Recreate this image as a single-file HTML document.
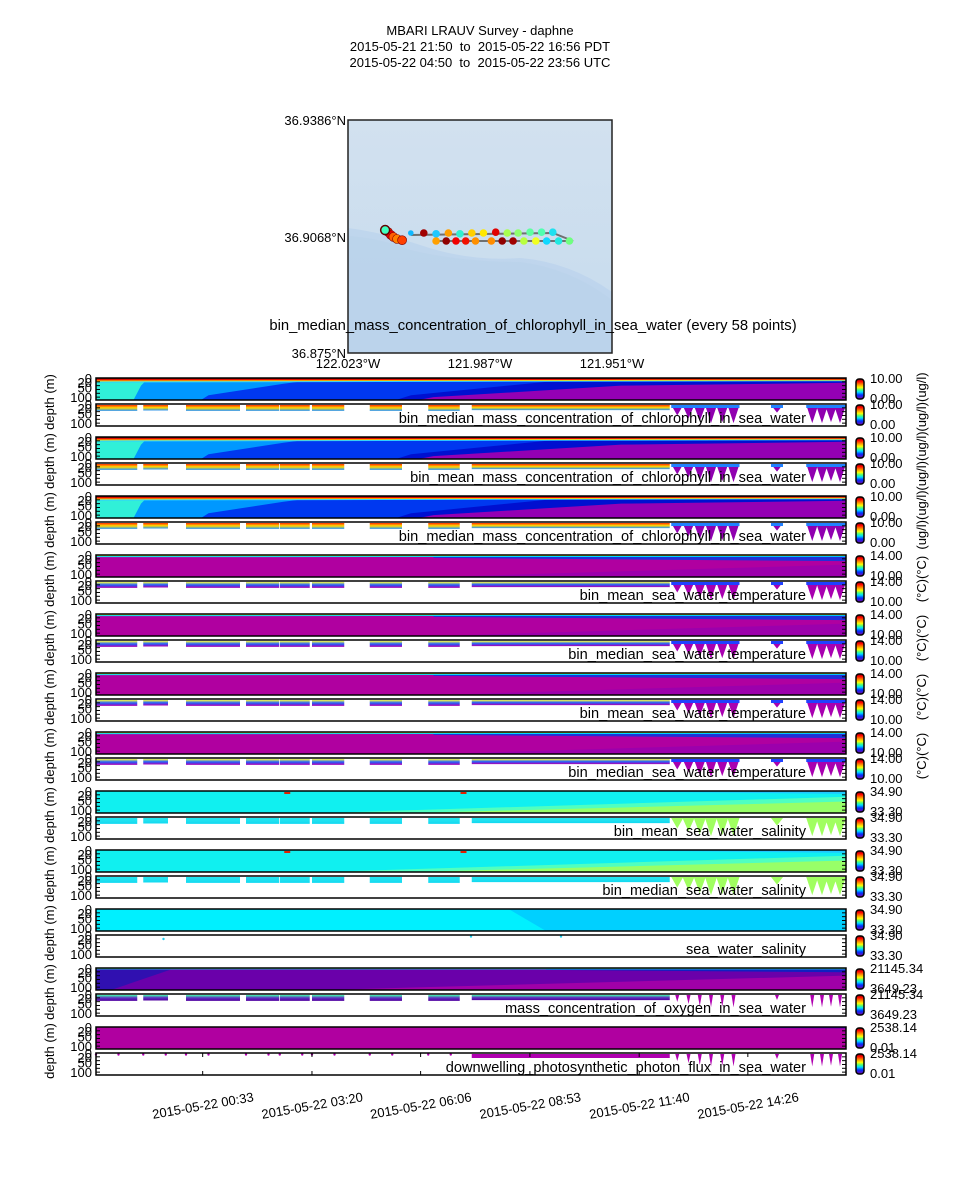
<!DOCTYPE html>
<html><head><meta charset="utf-8">
<style>
html,body{margin:0;padding:0;background:#fff;}
svg{display:block;font-family:"Liberation Sans",sans-serif;}
</style></head>
<body>
<svg id="fig" width="960" height="1200" viewBox="0 0 960 1200" xmlns="http://www.w3.org/2000/svg">
<defs>
<linearGradient id="cbar" x1="0" y1="0" x2="0" y2="1">
<stop offset="0" stop-color="#800000"/><stop offset="0.12" stop-color="#ff0000"/><stop offset="0.3" stop-color="#ffa000"/>
<stop offset="0.42" stop-color="#ffff00"/><stop offset="0.55" stop-color="#40ff80"/><stop offset="0.65" stop-color="#00e0ff"/>
<stop offset="0.8" stop-color="#0030ff"/><stop offset="1" stop-color="#8000a0"/></linearGradient>
<linearGradient id="mapbg" x1="0" y1="0" x2="0" y2="1"><stop offset="0" stop-color="#d2e1ef"/><stop offset="1" stop-color="#c6dbee"/></linearGradient>
</defs>
<g font-size="13" text-anchor="middle" fill="#000">
<text x="480" y="35">MBARI LRAUV Survey - daphne</text>
<text x="480" y="51">2015-05-21 21:50 &#160;to &#160;2015-05-22 16:56 PDT</text>
<text x="480" y="67">2015-05-22 04:50 &#160;to &#160;2015-05-22 23:56 UTC</text>
</g>
<g id="map">
<rect x="348" y="120" width="264" height="233" fill="url(#mapbg)"/>
<path d="M348 228 Q380 232 420 245 Q470 262 520 258 Q570 262 612 292 L612 353 L348 353 Z" fill="#bcd3ec" opacity="0.8"/>
<path d="M348 236 Q380 238 410 250 Q460 262 520 262 Q570 268 612 300 L612 353 L348 353Z" fill="#b9d2ea" opacity="0.6"/>
<polyline points="411,235 553,233 573,241 435,241" fill="none" stroke="#707070" stroke-width="2"/>
<g id="mapdots"></g>
<rect x="348" y="120" width="264" height="233" fill="none" stroke="#222" stroke-width="1.5"/>
<g font-size="13" fill="#000">
<text x="346" y="125" text-anchor="end">36.9386°N</text>
<text x="346" y="242" text-anchor="end">36.9068°N</text>
<text x="346" y="358" text-anchor="end">36.875°N</text>
<text x="348" y="368" text-anchor="middle">122.023°W</text>
<text x="480" y="368" text-anchor="middle">121.987°W</text>
<text x="612" y="368" text-anchor="middle">121.951°W</text>
<text x="533" y="330" text-anchor="middle" font-size="14.8">bin_median_mass_concentration_of_chlorophyll_in_sea_water (every 58 points)</text>
</g>
</g>
<g id="panels"></g>
</svg>
<script>
// ---------- data ----------
const titles = ["bin_median_mass_concentration_of_chlorophyll_in_sea_water","bin_mean_mass_concentration_of_chlorophyll_in_sea_water","bin_median_mass_concentration_of_chlorophyll_in_sea_water","bin_mean_sea_water_temperature","bin_median_sea_water_temperature","bin_mean_sea_water_temperature","bin_median_sea_water_temperature","bin_mean_sea_water_salinity","bin_median_sea_water_salinity","sea_water_salinity","mass_concentration_of_oxygen_in_sea_water","downwelling_photosynthetic_photon_flux_in_sea_water"];
const kinds = ["chl","chl","chl","temp","temp","temp","temp","sal","sal","sal3","oxy","photon"];
const vmaxLabels = ["10.00","10.00","10.00","14.00","14.00","14.00","14.00","34.90","34.90","34.90","21145.34","2538.14"];
const vminLabels = ["0.00","0.00","0.00","10.00","10.00","10.00","10.00","33.30","33.30","33.30","3649.23","0.01"];
const units = ["(ug/l)","(ug/l)","(ug/l)","(°C)","(°C)","(°C)","(°C)","","","","",""];
const depthTicks = [0,20,50,100];
const totalMinutes = 1146;
const tickMinutes = [163,330,496,663,830,996];
const tickLabels = ["2015-05-22 00:33","2015-05-22 03:20","2015-05-22 06:06","2015-05-22 08:53","2015-05-22 11:40","2015-05-22 14:26"];
const segStart = [0.0,0.063,0.12,0.2,0.245,0.288,0.365,0.443,0.501];
const segEnd   = [0.055,0.096,0.192,0.244,0.285,0.331,0.408,0.485,0.765];
const segDepth = [36,34,36,36,36,36,36,36,32];
const profT = [0.775,0.79,0.805,0.82,0.835,0.85,0.908,0.955,0.968,0.98,0.992];
const profD = [60,75,90,100,95,100,45,100,100,95,100];
const mapLon = [-122.0142,-122.0106,-122.0072,-122.0038,-122.0006,-121.9973,-121.9941,-121.9907,-121.9875,-121.9845,-121.9812,-121.978,-121.9749,-122.0072,-122.0044,-122.0017,-121.999,-121.9963,-121.9919,-121.9889,-121.9859,-121.9829,-121.9796,-121.9766,-121.9733,-121.9703];
const mapLat = [36.9068,36.9068,36.9067,36.9068,36.9067,36.9068,36.9068,36.9069,36.9068,36.9068,36.9069,36.9069,36.9069,36.9058,36.9058,36.9058,36.9058,36.9058,36.9058,36.9058,36.9058,36.9058,36.9058,36.9058,36.9058,36.9058];
const mapColor = ["#10b8ff","#a00000","#20c8ff","#ffa000","#30f0d0","#ffd000","#ffe800","#e00000","#a8ff50","#90ff70","#60ffa0","#50ffb0","#20e0f0","#ffa000","#900000","#f00000","#f01000","#ff9000","#ff8c00","#900000","#a00000","#b8ff40","#f0ff20","#10d8ff","#20e8e0","#70ff80"];
const clusterLon = [-122.0205,-122.0197,-122.019,-122.018,-122.0166];
const clusterLat = [36.90692,36.90655,36.9063,36.90605,36.9059];
const clusterColor = ["#ff2000","#e00000","#ff6000","#ff8000","#ff4000"];

// ---------- scales ----------
const X0=96, X1=846, DMAX=115;
const xT = t => X0 + t*(X1-X0);
const xM = m => xT(m/totalMinutes);
const lonX = lon => 379 + (lon + 122.023)*3613;
const latY = lat => 233 - (lat - 36.9068)*8000;

const NS="http://www.w3.org/2000/svg";
function mk(tag, attrs, parent){const e=document.createElementNS(NS,tag);for(const k in attrs)e.setAttribute(k,attrs[k]);parent.appendChild(e);return e;}

const md=document.getElementById('mapdots');
for(let i=0;i<clusterLon.length;i++){
  const c=mk('circle',{cx:lonX(clusterLon[i]),cy:latY(clusterLat[i]),r:4.5,fill:clusterColor[i],stroke:'#800000','stroke-width':0.6},md);
  
  
}
for(let i=0;i<mapLon.length;i++){
  const c=mk('circle',{cx:lonX(mapLon[i]),cy:latY(mapLat[i]),r:(i===0?2.8:3.8),fill:mapColor[i]},md);
  
  
}
const st=mk('circle',{cx:lonX(-122.0213),cy:latY(36.90717),r:4.5,fill:'#40ffc0',stroke:'#600000','stroke-width':1.5},md);



const layers = {
 chl:{base:"#9400b4",polys:[
  ["#0010d0",[[0,0],[1,0],[1,25],[0.7,40],[0.45,100],[0.43,115],[0,115]]],
  ["#0038f0",[[0,0],[0.75,0],[0.6,20],[0.42,90],[0.4,115],[0,115]]],
  ["#0098ff",[[0,0],[0.31,0],[0.25,30],[0.15,90],[0.14,115],[0,115]]],
  ["#30f0d8",[[0,0],[0.07,0],[0.06,40],[0.05,115],[0,115]]],
  ["#30d0ff",[[0,0],[1,0],[1,17],[0.5,20],[0,24]]],
  ["#ffe000",[[0,0],[1,0],[1,13],[0.5,15],[0,18]]],
  ["#ee1000",[[0,0],[1,0],[1,9],[0.5,11],[0,13]]],
  ["#880000",[[0,0],[1,0],[1,5],[0,6]]]]},
 temp:{base:"#b000a0",polys:[
  ["#9c00ac",[[0.45,115],[1,50],[1,115]]],
  ["#2030d8",[[0.45,10],[1,5],[1,32],[0.8,26],[0.45,15]]],
  ["#00d8ff",[[0,0],[1,0],[1,10],[0,11]]],
  ["#ffff20",[[0,0],[1,0],[1,5],[0,6]]]]},
 sal:{base:"#10f0f0",polys:[
  ["#50ffc0",[[0.3,115],[1,30],[1,115]]],
  ["#98ff68",[[0.42,115],[1,55],[1,115]]],
  ["#20c8ff",[[0.75,0],[1,0],[1,15],[0.75,5]]]]},
 sal3:{base:"#00f0ff",polys:[
  ["#00d0ff",[[0.55,0],[1,0],[1,115],[0.6,115]]]]},
 oxy:{base:"#6a00aa",polys:[
  ["#a000a8",[[0.3,115],[1,40],[1,115]]],
  ["#3010b0",[[0,8],[0.1,8],[0.02,115],[0,115]]],
  ["#1020c0",[[0.6,6],[1,6],[1,22],[0.6,10]]],
  ["#20e0e0",[[0,0],[1,0],[1,7],[0,7]]],
  ["#c0ff40",[[0,0],[1,0],[1,3],[0,3]]]]},
 photon:{base:"#b000a0",polys:[
  ["#3000c0",[[0.6,0],[1,0],[1,7],[0.6,1]]]]}
};
const scatterGrad = {chl:["#ff3000","#ffdd00","#2090ff"],temp:["#ffff40","#2060ff","#b000b0"],sal:["#20e8f0","#20e0f0","#10d8f0"],sal3:null,oxy:["#40ffb0","#6030c0","#5000a0"],photon:null};
const profColor = {chl:"#9000b0",temp:"#a800b0",sal:"#a0ff60",sal3:null,oxy:"#b000b0",photon:"#b000b0"};

const root=document.getElementById('panels');
const defs=document.querySelector('defs');
for(const k in scatterGrad){ if(!scatterGrad[k])continue;
  const g=mk('linearGradient',{id:'sg-'+k,x1:0,y1:0,x2:0,y2:1},defs);
  scatterGrad[k].forEach((c,i)=>mk('stop',{offset:i/2,'stop-color':c},g));
}

function drawAxes(g,top,h){
  const yD=d=>top+d/DMAX*h;
  for(const d of [0,20,40,60,80,100]){
    mk('line',{x1:X0,x2:X0+4,y1:yD(d),y2:yD(d),stroke:'#000','stroke-width':1},g);
    mk('line',{x1:X1-4,x2:X1,y1:yD(d),y2:yD(d),stroke:'#000','stroke-width':1},g);
  }
  depthTicks.forEach(d=>{
    const t=mk('text',{x:92,y:yD(d)+5,'text-anchor':'end','font-size':13},g);
    t.textContent=String(d);
  });
}

for(let i=0;i<12;i++){
  const top=378+i*59, h=22, top2=top+26;
  const k=kinds[i];
  const g=mk('g',{},root);
  
  
  const yD=(d,tp)=>tp+Math.min(d,DMAX)/DMAX*h;
  const cg=mk('g',{},g);
  
  
  mk('rect',{x:X0,y:top,width:X1-X0,height:h,fill:layers[k].base},cg);
  layers[k].polys.forEach(([col,pts])=>{
    const p=mk('polygon',{points:pts.map(q=>xT(q[0])+','+yD(q[1],top)).join(' '),fill:col},cg);
    
    
  });
  if(k==='sal'){ [0.255,0.49].forEach(t=>mk('rect',{x:xT(t)-3,y:top+1,width:6,height:2,fill:'#e02000'},cg)); }
  mk('rect',{x:X0,y:top,width:X1-X0,height:h,fill:'none',stroke:'#000','stroke-width':1.5},cg);
  drawAxes(cg,top,h);
  const sg=mk('g',{},g);
  
  
  mk('rect',{x:X0,y:top2,width:X1-X0,height:h,fill:'#fff'},sg);
  if(scatterGrad[k]){
    for(let s=0;s<segStart.length;s++){
      const r=mk('rect',{x:xT(segStart[s]),y:top2+1,width:xT(segEnd[s])-xT(segStart[s]),height:yD(segDepth[s],top2)-top2-1,fill:'url(#sg-'+k+')'},sg);
      
      
    }
  } else if(k==='photon'){
    for(let s=0;s<segStart.length;s++){
      if(segStart[s]<0.45){ for(let m=0;m<2;m++) mk('circle',{cx:xT(segStart[s]+m*0.03),cy:top2+1.5,r:1.2,fill:'#b000b0'},sg); }
      else { const r=mk('rect',{x:xT(segStart[s]),y:top2+1,width:xT(segEnd[s])-xT(segStart[s]),height:4,fill:'#b000b0'},sg);
        
         }
    }
  } else if(k==='sal3'){
    [0.09,0.5,0.62].forEach(t=>mk('circle',{cx:xT(t),cy:top2+(t<0.1?4:1.5),r:1.2,fill:'#20d0f0'},sg));
  }
  if(profColor[k]){
    for(let p=0;p<profT.length;p++){
      const x=xT(profT[p]), w=(k==='oxy'||k==='photon')?2:6;
      const d=(k==='oxy'||k==='photon')?profD[p]*0.7:profD[p];
      const pg=mk('polygon',{points:(x-w)+','+(top2+1)+' '+(x+w)+','+(top2+1)+' '+x+','+yD(d,top2),fill:profColor[k]},sg);
      
      
      if(k==='temp'||k==='chl'){ mk('rect',{x:x-w,y:top2+1,width:2*w,height:3,fill:k==='chl'?'#2080ff':'#2040ff'},sg); }
    }
  }
  mk('rect',{x:X0,y:top2,width:X1-X0,height:h,fill:'none',stroke:'#000','stroke-width':1.5},sg);
  drawAxes(sg,top2,h);
  if(i===11){ tickMinutes.forEach(m=>{ mk('line',{x1:xM(m),x2:xM(m),y1:top2,y2:top2+4,stroke:'#000'},sg); mk('line',{x1:xM(m),x2:xM(m),y1:top2+h,y2:top2+h-4,stroke:'#000'},sg);}); }
  const tt=mk('text',{x:806,y:top2+h-3,'text-anchor':'end','font-size':14.6},sg);
  tt.textContent=titles[i];
  
  
  [top,top2].forEach((tp,j)=>{
    const cb=mk('rect',{x:856,y:tp+1,width:8,height:h-2,rx:3,fill:'url(#cbar)',stroke:'#000','stroke-width':1.5},g);
    
    
    const a=mk('text',{x:870,y:tp+5,'font-size':13},g); a.textContent=vmaxLabels[i];
    const b=mk('text',{x:870,y:tp+h+3,'font-size':13},g); b.textContent=vminLabels[i];
  });
  const yl=mk('text',{x:0,y:0,'font-size':13,'text-anchor':'middle',transform:'translate(54,'+(top+24)+') rotate(-90)'},g);
  yl.textContent='depth (m)';
  
  
  if(units[i]){
    const ul=mk('text',{x:0,y:0,'font-size':13,'text-anchor':'middle',transform:'translate(926,'+(top+24)+') rotate(-90)'},g);
    ul.textContent=units[i]+units[i];
    
    
  }
}
const xg=mk('g',{},root);


tickMinutes.forEach((m,i)=>{
  const t=mk('text',{x:0,y:0,'font-size':13,'text-anchor':'middle',transform:'translate('+(xM(m)+1)+',1110) rotate(-10)'},xg);
  t.textContent=tickLabels[i];
  
  
});
</script>
</body></html>
